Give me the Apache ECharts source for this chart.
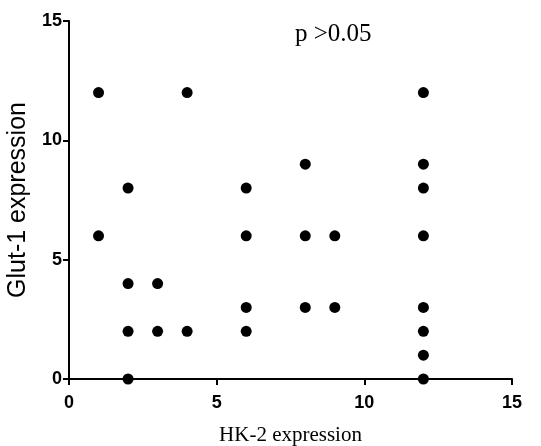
<!DOCTYPE html>
<html><head><meta charset="utf-8">
<script src="https://cdn.jsdelivr.net/npm/echarts@6/dist/echarts.min.js"></script>
<style>html,body{margin:0;padding:0;background:#fff}#c{width:541px;height:446px}</style>
</head><body><div id="c"></div>
<script>
var hk2 = [1,1, 2,2,2,2, 3,3, 4,4, 6,6,6,6, 8,8,8, 9,9, 12,12,12,12,12,12,12,12];
var glut1 = [12,6, 8,4,2,0, 4,2, 12,2, 8,6,3,2, 9,6,3, 6,3, 12,9,8,6,3,2,1,0];
var xTicks = [0,5,10,15];
var yTicks = [0,5,10,15];
var annotation = 'p >0.05';

var pts = hk2.map(function(x,i){return [x, glut1[i]];});
var chart = echarts.init(document.getElementById('c'));
var axisCommon = {
  type:'value', min:0, max:15, interval:5,
  axisLine:{show:true, onZero:false, lineStyle:{color:'#000', width:2}},
  axisTick:{show:true, length:6, lineStyle:{color:'#000', width:2}},
  splitLine:{show:false},
  axisLabel:{color:'#000', fontFamily:'Liberation Sans', fontWeight:'bold', fontSize:18},
  nameLocation:'middle'
};
chart.setOption({
  animation:false,
  grid:{left:69, right:29, top:21, bottom:67, containLabel:false, outerBoundsMode:'none'},
  xAxis: Object.assign({}, axisCommon, {name:'HK-2 expression', nameGap:46,
    nameTextStyle:{color:'#000', fontFamily:'Liberation Serif', fontSize:21},
    axisLabel:Object.assign({}, axisCommon.axisLabel, {margin:15})}),
  yAxis: Object.assign({}, axisCommon, {name:'Glut-1 expression', nameGap:31,
    nameTextStyle:{color:'#000', fontFamily:'Liberation Sans', fontSize:25},
    axisLabel:Object.assign({}, axisCommon.axisLabel, {margin:7})}),
  graphic:[{type:'text', left:295, top:22, style:{text:annotation, fill:'#000', font:'25px "Liberation Serif"'}}],
  series:[{type:'scatter', data:pts, symbol:'circle', symbolSize:11, itemStyle:{color:'#000', opacity:1}}]
});
</script></body></html>
